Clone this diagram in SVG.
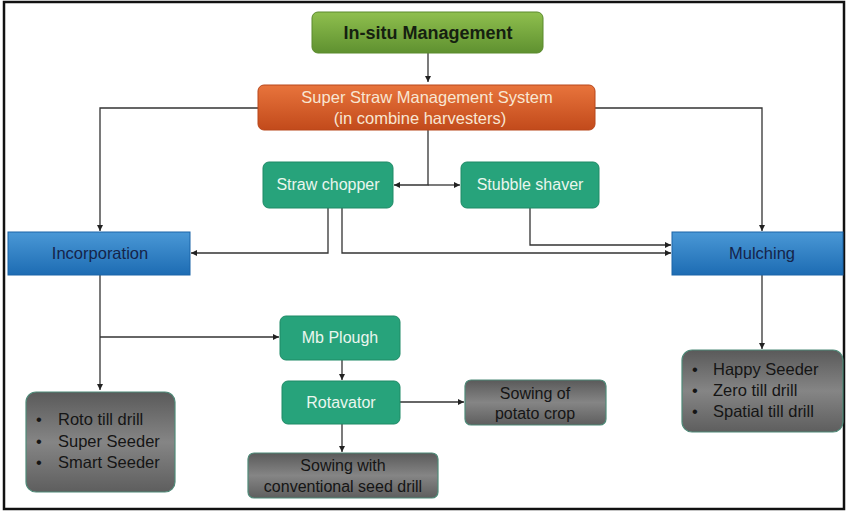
<svg xmlns="http://www.w3.org/2000/svg" width="847" height="512" viewBox="0 0 847 512">
<defs>
<linearGradient id="gGreen" x1="0" y1="0" x2="0" y2="1"><stop offset="0" stop-color="#8fbf4e"/><stop offset="1" stop-color="#5f9130"/></linearGradient>
<linearGradient id="gOrange" x1="0" y1="0" x2="0" y2="1"><stop offset="0" stop-color="#e8743c"/><stop offset="1" stop-color="#c24a1b"/></linearGradient>
<linearGradient id="gBlue" x1="0" y1="0" x2="0" y2="1"><stop offset="0" stop-color="#4a98d6"/><stop offset="1" stop-color="#1d6cb3"/></linearGradient>
<linearGradient id="gGray" x1="0" y1="0" x2="0" y2="1"><stop offset="0" stop-color="#5a5a5a"/><stop offset="0.5" stop-color="#858585"/><stop offset="1" stop-color="#5e5e5e"/></linearGradient>
<marker id="arr" viewBox="0 0 10 10" refX="10" refY="5" markerWidth="6" markerHeight="6" markerUnits="userSpaceOnUse" orient="auto"><path d="M0,0 L10,5 L0,10 z" fill="#222"/></marker>
<style>
.ln{fill:none;stroke:#333;stroke-width:1.3}
.teal{fill:#27a37b;stroke:#1e8a66;stroke-width:1}
.gray{fill:url(#gGray);stroke:#4f8a78;stroke-width:1.2}
.t{font-family:"Liberation Sans",Arial,sans-serif;text-anchor:middle}
.tw{fill:#eaf6ee;font-size:16px}
.td{fill:#151515;font-size:16px}
.lt{font-family:"Liberation Sans",Arial,sans-serif;fill:#151515;font-size:16.5px}
</style>
</defs>
<rect x="0" y="0" width="847" height="512" fill="#ffffff"/>
<rect x="4" y="2" width="840" height="507" fill="none" stroke="#111" stroke-width="2.5"/>

<g id="connectors">
<path class="ln" d="M428,53 V82" marker-end="url(#arr)"/>
<path class="ln" d="M258,108 H100 V231" marker-end="url(#arr)"/>
<path class="ln" d="M595,108 H762 V231" marker-end="url(#arr)"/>
<path class="ln" d="M428,130 V185 H394" marker-end="url(#arr)"/>
<path class="ln" d="M428,185 H460" marker-end="url(#arr)"/>
<path class="ln" d="M328,208 V253 H191" marker-end="url(#arr)"/>
<path class="ln" d="M342,208 V253 H671" marker-end="url(#arr)"/>
<path class="ln" d="M530,208 V245 H671" marker-end="url(#arr)"/>
<path class="ln" d="M100,275 V390" marker-end="url(#arr)"/>
<path class="ln" d="M100,337 H279" marker-end="url(#arr)"/>
<path class="ln" d="M342,360 V380" marker-end="url(#arr)"/>
<path class="ln" d="M400,402 H464" marker-end="url(#arr)"/>
<path class="ln" d="M342,424 V452" marker-end="url(#arr)"/>
<path class="ln" d="M762,275 V349" marker-end="url(#arr)"/>
</g>

<g id="insitu">
<rect x="312" y="12" width="231" height="41" rx="6" fill="url(#gGreen)" stroke="#5a8a2c" stroke-width="1"/>
<text class="t" x="428" y="39" font-size="18" font-weight="bold" fill="#152010">In-situ Management</text>
</g>

<g id="superstraw">
<rect x="258" y="85" width="337" height="45" rx="6" fill="url(#gOrange)" stroke="#b8461a" stroke-width="1"/>
<text class="t" x="427" y="103" font-size="16.5" fill="#f8e6d2">Super Straw Management System</text>
<text class="t" x="420" y="124" font-size="16.5" fill="#f8e6d2">(in combine harvesters)</text>
</g>

<g id="strawchopper">
<rect class="teal" x="263" y="162" width="130" height="46" rx="6"/>
<text class="t tw" x="328" y="190">Straw chopper</text>
</g>

<g id="stubbleshaver">
<rect class="teal" x="461" y="162" width="138" height="46" rx="6"/>
<text class="t tw" x="530" y="190">Stubble shaver</text>
</g>

<g id="incorporation">
<rect x="8" y="232" width="182" height="43" fill="url(#gBlue)" stroke="#1b64a8" stroke-width="1"/>
<text class="t" x="100" y="259" font-size="16.5" fill="#15244a">Incorporation</text>
</g>

<g id="mulching">
<rect x="672" y="232" width="171" height="43" fill="url(#gBlue)" stroke="#1b64a8" stroke-width="1"/>
<text class="t" x="762" y="259" font-size="16.5" fill="#15244a">Mulching</text>
</g>

<g id="mbplough">
<rect class="teal" x="280" y="316" width="120" height="44" rx="6"/>
<text class="t tw" x="340" y="343">Mb Plough</text>
</g>

<g id="rotavator">
<rect class="teal" x="282" y="381" width="118" height="43" rx="6"/>
<text class="t tw" x="341" y="408">Rotavator</text>
</g>

<g id="potato">
<rect class="gray" x="465" y="380" width="141" height="45" rx="6"/>
<text class="t td" x="535" y="399">Sowing of</text>
<text class="t td" x="535" y="419">potato crop</text>
</g>

<g id="conventional">
<rect class="gray" x="248" y="453" width="190" height="45" rx="6"/>
<text class="t td" x="343" y="471">Sowing with</text>
<text class="t td" x="343" y="492">conventional seed drill</text>
</g>

<g id="incorpmachines">
<rect class="gray" x="26" y="392" width="149" height="100" rx="10"/>
<text class="lt" x="36" y="425">•</text><text class="lt" x="58" y="425">Roto till drill</text>
<text class="lt" x="36" y="447">•</text><text class="lt" x="58" y="447">Super Seeder</text>
<text class="lt" x="36" y="468">•</text><text class="lt" x="58" y="468">Smart Seeder</text>
</g>

<g id="mulchmachines">
<rect class="gray" x="682" y="350" width="161" height="82" rx="10"/>
<text class="lt" x="692" y="375">•</text><text class="lt" x="713" y="375">Happy Seeder</text>
<text class="lt" x="692" y="396">•</text><text class="lt" x="713" y="396">Zero till drill</text>
<text class="lt" x="692" y="417">•</text><text class="lt" x="713" y="417">Spatial till drill</text>
</g>
</svg>
